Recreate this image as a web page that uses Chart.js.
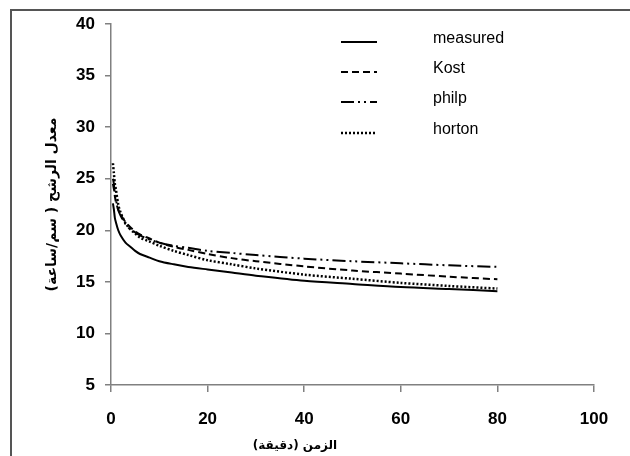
<!DOCTYPE html>
<html>
<head>
<meta charset="utf-8">
<script src="https://cdn.jsdelivr.net/npm/chart.js@4/dist/chart.umd.min.js"></script>
<style>
    html, body { margin: 0; padding: 0; background: #fff; }
    #wrap { position: relative; width: 630px; height: 456px; }
</style>
</head>
<body>
<div id="wrap"><canvas id="chart" width="630" height="456"></canvas></div>
<script>
// time (min)
const timeMin = [0.4, 0.6, 0.8, 1, 1.5, 2, 3, 4, 5, 6, 8, 10, 13, 16, 20, 25, 30, 40, 50, 60, 70, 80];
// infiltration rate (cm/h)
const measured = [22.6, 22.0, 21.2, 20.8, 20.0, 19.5, 18.8, 18.4, 18.0, 17.7, 17.35, 17.0, 16.7, 16.45, 16.2, 15.9, 15.6, 15.1, 14.8, 14.5, 14.3, 14.1];
const kost     = [24.5, 24.0, 23.3, 22.8, 22.0, 21.5, 20.8, 20.3, 19.9, 19.6, 19.2, 18.8, 18.4, 18.1, 17.7, 17.3, 17.0, 16.5, 16.1, 15.8, 15.5, 15.25];
const philp    = [25.0, 24.5, 23.5, 23.0, 22.0, 21.4, 20.6, 20.1, 19.8, 19.5, 19.1, 18.8, 18.5, 18.3, 18.0, 17.8, 17.6, 17.25, 17.0, 16.8, 16.6, 16.45];
const horton   = [26.5, 25.5, 24.5, 24.0, 22.5, 21.7, 20.7, 20.1, 19.7, 19.3, 18.9, 18.5, 18.0, 17.6, 17.1, 16.7, 16.3, 15.7, 15.3, 14.9, 14.6, 14.35];

const seriesNames = ["measured", "Kost", "philp", "horton"];
const xTicks = [0, 20, 40, 60, 80, 100];
const yTicks = [5, 10, 15, 20, 25, 30, 35, 40];
const xTitle = "الزمن (دقيقة)";
const yTitle = "معدل الرشح ( سم/ساعة)";

const axisGray = "#808080";
const tickFont = { family: "'Liberation Sans', Arial, sans-serif", size: 17, weight: "bold" };

function pts(ys) {
    return timeMin.map(function (t, i) { return { x: t, y: ys[i] }; });
}

function ds(label, ys, dash, width) {
    return {
        label: label,
        data: pts(ys),
        borderColor: "#000",
        borderWidth: width,
        borderDash: dash,
        pointRadius: 0,
        tension: 0.3,
        fill: false
    };
}

// frame round the picture (only left and top edges are visible)
const framePlugin = {
    id: "frame",
    beforeDraw: function (chart) {
        const c = chart.ctx;
        c.save();
        c.strokeStyle = "#555";
        c.lineWidth = 2;
        c.beginPath();
        c.moveTo(11, 456);
        c.lineTo(11, 10);
        c.lineTo(630, 10);
        c.stroke();
        c.restore();
    }
};

// legend sitting inside the plot, line sample then name
const legendPlugin = {
    id: "sideLegend",
    afterDraw: function (chart) {
        const c = chart.ctx;
        const rows = [39, 69, 99, 130];
        c.save();
        chart.data.datasets.forEach(function (d, i) {
            const y = rows[i];
            c.strokeStyle = d.borderColor;
            c.lineWidth = d.borderWidth;
            c.setLineDash(d.borderDash || []);
            c.beginPath();
            c.moveTo(341, y + 3);
            c.lineTo(377, y + 3);
            c.stroke();
            c.setLineDash([]);
            c.fillStyle = "#000";
            c.font = "16px 'Liberation Sans', Arial, sans-serif";
            c.textBaseline = "middle";
            c.textAlign = "left";
            c.fillText(d.label, 433, y);
        });
        c.restore();
    }
};

// x axis title is off centre in the original
const xTitlePlugin = {
    id: "xTitle",
    afterDraw: function (chart) {
        const c = chart.ctx;
        c.save();
        c.fillStyle = "#000";
        c.font = "bold 12px 'DejaVu Sans', sans-serif";
        c.textAlign = "center";
        c.textBaseline = "middle";
        c.fillText(xTitle, 295, 446);
        c.restore();
    }
};

new Chart(document.getElementById("chart"), {
    type: "line",
    data: {
        datasets: [
            ds(seriesNames[0], measured, [], 2),
            ds(seriesNames[1], kost, [7, 4], 2),
            ds(seriesNames[2], philp, [13, 4, 2, 4, 2, 4], 2),
            ds(seriesNames[3], horton, [2, 2], 2.5)
        ]
    },
    options: {
        responsive: false,
        animation: false,
        layout: { padding: { top: 24, right: 36, left: 0, bottom: 0 } },
        plugins: {
            legend: { display: false },
            tooltip: { enabled: false }
        },
        scales: {
            x: {
                type: "linear",
                min: 0,
                max: 100,
                afterBuildTicks: function (s) { s.ticks = xTicks.map(function (v) { return { value: v }; }); },
                afterFit: function (s) { s.height = 71; },
                ticks: { color: "#000", padding: 17, font: tickFont },
                grid: { drawOnChartArea: false, color: axisGray, tickLength: 7, lineWidth: 1.5 },
                border: { color: axisGray, width: 1.5 }
            },
            y: {
                type: "linear",
                min: 5,
                max: 40,
                afterBuildTicks: function (s) { s.ticks = yTicks.map(function (v) { return { value: v }; }); },
                afterFit: function (s) { s.width = 111; },
                ticks: { color: "#000", padding: 10, font: tickFont },
                grid: { drawOnChartArea: false, color: axisGray, tickLength: 6, lineWidth: 1.5 },
                border: { color: axisGray, width: 1.5 },
                title: {
                    display: true,
                    text: yTitle,
                    color: "#000",
                    font: { family: "'DejaVu Sans', sans-serif", size: 14, weight: "bold" },
                    padding: { top: 44, bottom: 0 }
                }
            }
        }
    },
    plugins: [framePlugin, legendPlugin, xTitlePlugin]
});
</script>
</body>
</html>
